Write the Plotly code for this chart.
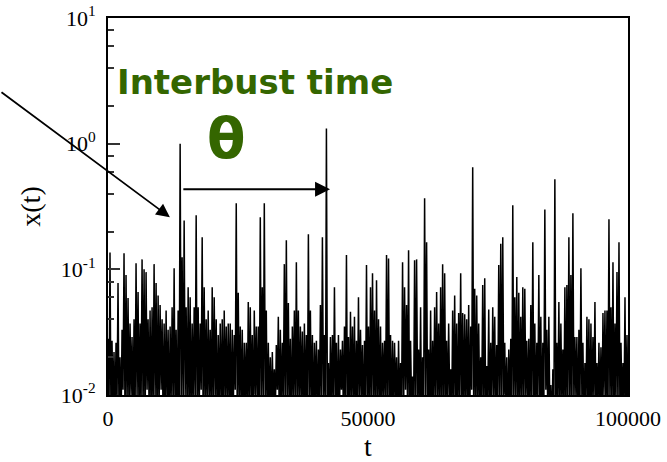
import numpy as np
import plotly.graph_objects as go

# Local maxima of x(t), one per sampling window (260 windows over 0..100000)
peaks = [
    0.028, 0.136, 0.027, 0.022, 0.026, 0.078, 0.020, 0.033, 0.134, 0.090,
    0.059, 0.037, 0.029, 0.040, 0.112, 0.066, 0.037, 0.120, 0.100, 0.095,
    0.040, 0.047, 0.050, 0.110, 0.078, 0.062, 0.052, 0.040, 0.037, 0.047,
    0.033, 0.035, 0.050, 0.102, 0.033, 0.047, 1.000, 0.125, 0.245, 0.050,
    0.072, 0.060, 0.037, 0.050, 0.270, 0.050, 0.037, 0.180, 0.072, 0.040,
    0.047, 0.033, 0.072, 0.060, 0.040, 0.030, 0.037, 0.040, 0.047, 0.035,
    0.037, 0.037, 0.033, 0.030, 0.335, 0.065, 0.035, 0.033, 0.026, 0.026,
    0.055, 0.050, 0.030, 0.047, 0.035, 0.035, 0.260, 0.072, 0.335, 0.047,
    0.026, 0.020, 0.022, 0.016, 0.025, 0.042, 0.033, 0.026, 0.110, 0.170,
    0.054, 0.028, 0.035, 0.047, 0.114, 0.047, 0.035, 0.032, 0.037, 0.030,
    0.190, 0.047, 0.030, 0.026, 0.027, 0.023, 0.052, 0.180, 0.030, 1.320,
    0.018, 0.029, 0.030, 0.072, 0.026, 0.030, 0.023, 0.027, 0.035, 0.130,
    0.029, 0.046, 0.035, 0.042, 0.027, 0.060, 0.033, 0.025, 0.027, 0.108,
    0.035, 0.072, 0.093, 0.047, 0.082, 0.040, 0.035, 0.026, 0.027, 0.130,
    0.122, 0.030, 0.027, 0.026, 0.020, 0.027, 0.018, 0.114, 0.072, 0.052,
    0.142, 0.027, 0.014, 0.118, 0.120, 0.023, 0.050, 0.020, 0.367, 0.164,
    0.023, 0.047, 0.027, 0.050, 0.066, 0.037, 0.072, 0.110, 0.093, 0.027,
    0.037, 0.016, 0.047, 0.062, 0.037, 0.045, 0.093, 0.045, 0.044, 0.040,
    0.052, 0.035, 0.650, 0.070, 0.062, 0.037, 0.020, 0.075, 0.085, 0.017,
    0.048, 0.026, 0.050, 0.042, 0.025, 0.108, 0.160, 0.180, 0.026, 0.020,
    0.023, 0.028, 0.324, 0.060, 0.087, 0.065, 0.042, 0.072, 0.070, 0.027,
    0.028, 0.052, 0.164, 0.037, 0.026, 0.090, 0.042, 0.026, 0.300, 0.033,
    0.042, 0.012, 0.016, 0.520, 0.026, 0.055, 0.037, 0.023, 0.072, 0.075,
    0.180, 0.090, 0.280, 0.029, 0.029, 0.033, 0.102, 0.026, 0.018, 0.042,
    0.040, 0.037, 0.029, 0.055, 0.018, 0.026, 0.024, 0.045, 0.047, 0.047,
    0.250, 0.050, 0.114, 0.037, 0.095, 0.164, 0.026, 0.018, 0.060, 0.030,
]

# Local minima of x(t) between consecutive maxima
troughs = [
    0.007, 0.006, 0.008, 0.006, 0.009, 0.007, 0.005, 0.011, 0.006, 0.008,
    0.007, 0.010, 0.006, 0.007, 0.009, 0.006, 0.008, 0.007, 0.005, 0.011,
    0.008, 0.006, 0.007, 0.009, 0.005, 0.008, 0.011, 0.006, 0.007, 0.008,
    0.005, 0.009, 0.007, 0.006, 0.005, 0.006, 0.008, 0.007, 0.010, 0.006,
    0.007, 0.005, 0.009, 0.008, 0.006, 0.007, 0.011, 0.005, 0.008, 0.007,
    0.009, 0.006, 0.007, 0.010, 0.005, 0.008, 0.007, 0.006, 0.009, 0.007,
    0.008, 0.005, 0.007, 0.011, 0.006, 0.008, 0.007, 0.005, 0.009, 0.006,
    0.007, 0.008, 0.005, 0.010, 0.007, 0.006, 0.008, 0.007, 0.009, 0.005,
    0.007, 0.006, 0.008, 0.007, 0.011, 0.005, 0.007, 0.009, 0.006, 0.008,
    0.007, 0.005, 0.010, 0.006, 0.008, 0.007, 0.009, 0.005, 0.007, 0.006,
    0.008, 0.007, 0.005, 0.009, 0.006, 0.008, 0.007, 0.010, 0.005, 0.007,
    0.006, 0.008, 0.007, 0.009, 0.005, 0.007, 0.011, 0.006, 0.008, 0.007,
    0.005, 0.009, 0.007, 0.006, 0.008, 0.007, 0.010, 0.005, 0.007, 0.008,
    0.006, 0.007, 0.009, 0.005, 0.008, 0.007, 0.006, 0.010, 0.007, 0.005,
    0.008, 0.006, 0.007, 0.009, 0.005, 0.007, 0.008, 0.006, 0.011, 0.007,
    0.005, 0.008, 0.007, 0.006, 0.009, 0.007, 0.005, 0.008, 0.010, 0.006,
    0.007, 0.005, 0.008, 0.007, 0.009, 0.006, 0.007, 0.005, 0.008, 0.007,
    0.010, 0.006, 0.007, 0.008, 0.005, 0.009, 0.007, 0.006, 0.008, 0.007,
    0.005, 0.011, 0.007, 0.006, 0.008, 0.007, 0.009, 0.005, 0.007, 0.008,
    0.006, 0.007, 0.010, 0.005, 0.008, 0.007, 0.006, 0.009, 0.007, 0.005,
    0.008, 0.006, 0.007, 0.009, 0.005, 0.007, 0.008, 0.006, 0.010, 0.007,
    0.005, 0.008, 0.007, 0.006, 0.009, 0.007, 0.005, 0.008, 0.011, 0.006,
    0.007, 0.005, 0.006, 0.007, 0.008, 0.006, 0.009, 0.007, 0.005, 0.008,
    0.007, 0.006, 0.008, 0.010, 0.005, 0.007, 0.009, 0.006, 0.007, 0.008,
    0.005, 0.007, 0.009, 0.006, 0.008, 0.007, 0.005, 0.010, 0.007, 0.006,
    0.008, 0.007, 0.005, 0.009, 0.007, 0.006, 0.008, 0.007, 0.005, 0.007,
]

# Interbust interval between the two large bursts (time values)
burst_start = 14200
burst_end = 42700
arrow_level = 0.433

y_tickvals = [0.01, 0.1, 1, 10]
y_ticktext = ["10<sup>-2</sup>", "10<sup>-1</sup>", "10<sup>0</sup>", "10<sup>1</sup>"]
x_tickvals = [0, 50000, 100000]
x_ticktext = ["0", "50000", "100000"]

# Interleave maxima and minima into one time series
x_series = []
for p, q in zip(peaks, troughs):
    x_series.extend([p, q])
t = np.linspace(0, 100000, len(x_series))

minor_vals = [m * 10.0 ** e for e in (-2, -1, 0) for m in (2, 4, 6, 8)]

serif = "Liberation Serif, Times New Roman, serif"
green = "#346600"

fig = go.Figure()
fig.add_trace(go.Scatter(
    x=t, y=x_series, mode="lines",
    line=dict(color="black", width=1.5),
    showlegend=False, hoverinfo="skip",
))

fig.update_layout(
    width=667, height=462,
    margin=dict(l=108, r=39, t=18, b=67),
    paper_bgcolor="white", plot_bgcolor="white",
    font=dict(family=serif, size=22, color="black"),
    xaxis=dict(
        range=[0, 100000], tickvals=x_tickvals, ticktext=x_ticktext,
        automargin=False,
        showgrid=False, zeroline=False, ticks="",
        showline=True, linecolor="black", linewidth=1.5, mirror=True,
        ticklabelstandoff=3,
        title=dict(text="t", font=dict(family=serif, size=28), standoff=14),
    ),
    yaxis=dict(
        type="log", range=[-2, 1], tickvals=y_tickvals, ticktext=y_ticktext,
        automargin=False,
        showgrid=False, zeroline=False,
        ticks="inside", ticklen=12, tickwidth=1.5, tickcolor="#333",
        minor=dict(tickvals=minor_vals, ticks="inside", ticklen=6,
                   tickwidth=1.5, tickcolor="#333", showgrid=False),
        showline=True, linecolor="black", linewidth=2, mirror=True,
        ticklabelstandoff=6,
        title=dict(text="x(t)", font=dict(family=serif, size=28), standoff=12),
    ),
)

# Labels for the interburst interval
fig.add_annotation(
    text="<b>Interbust time</b>", xref="paper", yref="paper",
    x=0.283, y=0.829, xanchor="center", yanchor="middle", showarrow=False,
    font=dict(family="DejaVu Sans, Verdana, sans-serif", size=34, color=green),
)
fig.add_annotation(
    text="<b>θ</b>", xref="paper", yref="paper",
    x=0.227, y=0.68, xanchor="center", yanchor="middle", showarrow=False,
    font=dict(family="DejaVu Sans, Verdana, sans-serif", size=56, color=green),
)

# Horizontal arrow spanning the interval
fig.add_annotation(
    x=burst_end, y=np.log10(arrow_level), xref="x", yref="y",
    ax=burst_start, ay=np.log10(arrow_level), axref="x", ayref="y",
    text="", showarrow=True, arrowhead=2, arrowsize=1.5, arrowwidth=2,
    arrowcolor="black",
)

# Arrow pointing at the first burst
fig.add_annotation(
    x=11900, y=np.log10(0.26), xref="x", yref="y",
    ax=-174, ay=-126, axref="pixel", ayref="pixel",
    text="", showarrow=True, arrowhead=2, arrowsize=1.5, arrowwidth=1.8,
    arrowcolor="black",
)

fig.write_html("out.html")
